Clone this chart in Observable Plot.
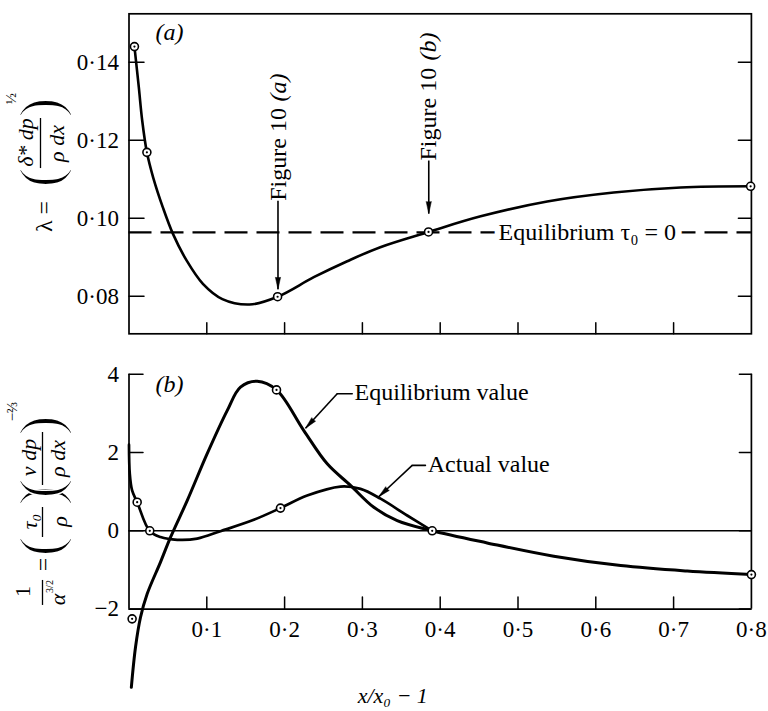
<!DOCTYPE html>
<html>
<head>
<meta charset="utf-8">
<script src="https://cdn.jsdelivr.net/npm/d3@7"></script>
<script src="https://cdn.jsdelivr.net/npm/@observablehq/plot@0.6"></script>
<style>
  html, body { margin: 0; padding: 0; background: #fff; }
  #chart svg { display: block; }
</style>
</head>
<body>
<div id="chart"></div>
<script>
// ---------------- data ----------------
const xMinorTicks = [0.1, 0.2, 0.3, 0.4, 0.5, 0.6, 0.7];
const xLabelValues = [0.1, 0.2, 0.3, 0.4, 0.5, 0.6, 0.7, 0.8];
const xTickLabels = ["0·1", "0·2", "0·3", "0·4", "0·5", "0·6", "0·7", "0·8"];

// panel (a): lambda
const lambdaTicks = [0.08, 0.10, 0.12, 0.14];
const lambdaTickLabels = ["0·08", "0·10", "0·12", "0·14"];
const lambdaCurveX = [0.007, 0.0126, 0.017, 0.023, 0.031, 0.0435, 0.0565, 0.074, 0.095, 0.120, 0.155, 0.191, 0.2375, 0.2805, 0.323, 0.385, 0.452, 0.5375, 0.623, 0.709, 0.799];
const lambdaCurveY = [0.1440, 0.1336, 0.1250, 0.1169, 0.1105, 0.1028, 0.0960, 0.0892, 0.0832, 0.0793, 0.0779, 0.0799, 0.0849, 0.0890, 0.0926, 0.0965, 0.1005, 0.1043, 0.1066, 0.1079, 0.1082];
const lambdaPointX = [0.007, 0.023, 0.191, 0.385, 0.799];
const lambdaPointY = [0.1440, 0.1169, 0.0799, 0.0965, 0.1082];
const lambdaEquilibrium = 0.0964;

// panel (b): 1/alpha^(3/2)
const alphaTicks = [-2, 0, 2, 4];
const alphaTickLabels = ["−2", "0", "2", "4"];
const equilibriumX = [0.003, 0.0084, 0.0148, 0.0234, 0.0405, 0.0533, 0.0748, 0.1005, 0.1262, 0.1433, 0.1648, 0.1896, 0.2247, 0.2548, 0.2847, 0.3147, 0.3447, 0.3897, 0.4604, 0.546, 0.632, 0.7175, 0.800];
const equilibriumY = [-4.0, -2.97, -2.21, -1.61, -0.80, -0.17, 0.77, 1.97, 3.07, 3.67, 3.82, 3.60, 2.56, 1.71, 1.16, 0.60, 0.26, 0.0, -0.31, -0.65, -0.89, -1.03, -1.12];
const equilibriumPointX = [0.004, 0.1896, 0.3897, 0.800];
const equilibriumPointY = [-2.25, 3.60, 0.0, -1.12];
const actualX = [0.0, 0.001, 0.004, 0.0105, 0.0267, 0.0405, 0.062, 0.0877, 0.1176, 0.1604, 0.1947, 0.229, 0.2718, 0.2976, 0.3233, 0.3576, 0.3897];
const actualY = [2.2, 1.46, 1.03, 0.73, -0.01, -0.16, -0.23, -0.20, -0.01, 0.28, 0.58, 0.90, 1.13, 1.07, 0.82, 0.39, 0.0];
const actualPointX = [0.0105, 0.0267, 0.1947];
const actualPointY = [0.73, 0.0, 0.58];

// annotations
const figureA = {text: "Figure 10", tag: "(a)", x: 0.1915, yStart: 0.1045, yEnd: 0.1371, yTip: 0.0818};
const figureB = {text: "Figure 10", tag: "(b)", x: 0.3853, yStart: 0.1148, yEnd: 0.1476, yTip: 0.1012};
const eqLabel = {text: "Equilibrium τ₀ = 0", x: 0.475, y: 0.0964};
const eqValueLabel = {text: "Equilibrium value", x: 0.290, y: 3.53, leaderX: [0.2869, 0.2676], leaderY: [3.50, 3.50], tipX: 0.2269, tipY: 2.62};
const actValueLabel = {text: "Actual value", x: 0.384, y: 1.70, leaderX: [0.381, 0.364], leaderY: [1.67, 1.67], tipX: 0.321, tipY: 0.87};

// ---------------- layout ----------------
const FONT = "Liberation Serif, DejaVu Serif, serif";
const W = 768, ML = 128.5, MR = 17.1;
const tickShape = {draw(context, l) { context.moveTo(0, 0); context.lineTo(0, -l); }};
const pts = (xs, ys) => xs.map((x, i) => ({x, y: ys[i]}));
const txt = {fontFamily: FONT, fill: "black"};

function ticksY(values, x, rotate, length) {
  return Plot.vector(values, {x, y: d => d, rotate, length, anchor: "start", shape: tickShape, stroke: "black", strokeWidth: 1.5});
}
function ticksX(values, y, length) {
  return Plot.vector(values, {x: d => d, y, rotate: 0, length, anchor: "start", shape: tickShape, stroke: "black", strokeWidth: 1.5});
}
function circles(data) {
  return [
    Plot.dot(data, {x: "x", y: "y", r: 4, fill: "white", stroke: "black", strokeWidth: 1.6}),
    Plot.dot(data, {x: "x", y: "y", r: 1.1, fill: "black", stroke: null})
  ];
}
// filled, narrow arrowhead ending at (x, y), pointing along `rotate` (degrees clockwise from up)
function head(datum, x, y, rotate) {
  return Plot.vector([datum], {x, y, rotate, length: 12, r: 2.6, shape: "spike", anchor: "end", fill: "black", stroke: "black", strokeWidth: 0.5});
}
// pieces of a rotated (stacked) axis title, positioned relative to the frame's top-left corner
function titlePart(text, px, py, top, opts = {}) {
  return Plot.text([text], {text: d => d, frameAnchor: "top-left", dx: px - ML, dy: py - top, rotate: -90,
    textAnchor: "middle", lineAnchor: "middle", fontSize: 22, ...txt, ...opts});
}
function paren(text, px, py, top) {
  // large thin parenthesis: glyph slightly eroded by a white outline painted over it
  return titlePart(text, px, py, top, {fontSize: 60, stroke: "white", strokeWidth: 1.6, paintOrder: "normal"});
}

// ---------------- panel (a) ----------------
const A_TOP = 13.3, A_H = 345;
const aYmin = 0.0704, aYmax = 0.1524;
const plotA = Plot.plot({
  width: W, height: A_H,
  marginLeft: ML, marginRight: MR, marginTop: A_TOP, marginBottom: A_H - 333.3,
  x: {domain: [0, 0.8], axis: null},
  y: {domain: [aYmin, aYmax], axis: null},
  style: {fontFamily: FONT, background: "white", color: "black", overflow: "visible"},
  marks: [
    Plot.frame({stroke: "black", strokeWidth: 1.7}),
    ticksY(lambdaTicks, 0, 90, 15),
    ticksY(lambdaTicks, 0.8, -90, 13),
    ticksX(xMinorTicks, aYmin, 11),
    Plot.text(lambdaTicks, {x: 0, y: d => d, text: (d, i) => lambdaTickLabels[i], textAnchor: "end", dx: -10, fontSize: 23, ...txt}),
    Plot.ruleY([lambdaEquilibrium], {stroke: "black", strokeWidth: 2.2, strokeDasharray: "23,9"}),
    Plot.line(pts(lambdaCurveX, lambdaCurveY), {x: "x", y: "y", curve: "catmull-rom", stroke: "black", strokeWidth: 2.6}),
    Plot.text([eqLabel], {x: "x", y: "y", text: "text", textAnchor: "start", fontSize: 24, ...txt, stroke: "white", strokeWidth: 13}),
    // Figure 10 annotations
    ...[figureA, figureB].flatMap(f => [
      Plot.text([f], {x: "x", y: "yStart", text: "text", rotate: -90, textAnchor: "start", fontSize: 24, ...txt}),
      Plot.text([f], {x: "x", y: "yEnd", text: "tag", rotate: -90, textAnchor: "end", fontSize: 24, fontStyle: "italic", ...txt}),
      Plot.link([f], {x1: "x", x2: "x", y1: "yStart", y2: "yTip", stroke: "black", strokeWidth: 1.6}),
      head(f, "x", "yTip", 180)
    ]),
    ...circles(pts(lambdaPointX, lambdaPointY)),
    Plot.text(["(a)"], {x: 0.052, y: 0.1477, text: d => d, fontSize: 24, fontStyle: "italic", ...txt}),
    // y-axis title: λ = (δ* dp / ρ dx)^½
    titlePart("λ =", 44, 216, A_TOP, {fontSize: 24}),
    paren("(", 40, 177, A_TOP),
    paren(")", 40, 107, A_TOP),
    titlePart("δ* dp", 25, 142, A_TOP, {fontStyle: "italic"}),
    titlePart("ρ dx", 56, 143, A_TOP, {fontStyle: "italic"}),
    Plot.ruleX([0], {dx: 40 - ML, y1: 0.14 - (118 - 61.7) / 3900, y2: 0.14 - (168 - 61.7) / 3900, stroke: "black", strokeWidth: 1.3}),
    titlePart("½", 11, 98, A_TOP, {fontSize: 15})
  ]
});

// ---------------- panel (b) ----------------
const B_H = 366;
const bYmin = -4.5, bYmax = 4.2;
const B_TOP = 20.9, B_BOTTOM = 4.6;
// pixels per data unit, used only to orient the arrowheads along their leader lines
const kx = (W - ML - MR) / 0.8, ky = (B_H - B_TOP - B_BOTTOM) / (bYmax - bYmin);
const headAngle = l => Math.atan2((l.tipX - l.leaderX[1]) * kx, (l.tipY - l.leaderY[1]) * ky) * 180 / Math.PI;
const plotB = Plot.plot({
  width: W, height: B_H,
  marginLeft: ML, marginRight: MR, marginTop: B_TOP, marginBottom: B_BOTTOM,
  x: {domain: [0, 0.8], axis: null},
  y: {domain: [bYmin, bYmax], axis: null},
  style: {fontFamily: FONT, background: "white", color: "black", overflow: "visible"},
  marks: [
    Plot.ruleX([0, 0.8], {y1: -2, y2: 4, stroke: "black", strokeWidth: 1.7}),
    Plot.ruleY([-2], {x1: 0, x2: 0.8, stroke: "black", strokeWidth: 1.7}),
    Plot.ruleY([0], {x1: 0, x2: 0.8, stroke: "black", strokeWidth: 1.4}),
    ticksY(alphaTicks, 0, 90, 14),
    ticksY(alphaTicks, 0.8, -90, 12),
    ticksX(xMinorTicks, -2, 12),
    Plot.text(alphaTicks, {x: 0, y: d => d, text: (d, i) => alphaTickLabels[i], textAnchor: "end", dx: -10, fontSize: 23, ...txt}),
    Plot.text(xLabelValues, {x: d => d, y: -2, text: (d, i) => xTickLabels[i], lineAnchor: "top", dy: 12, fontSize: 23, ...txt}),
    Plot.text(["x/x₀ − 1"], {x: 0.339, y: -2, text: d => d, dy: 87, fontSize: 22, fontStyle: "italic", ...txt}),
    Plot.line(pts(equilibriumX, equilibriumY), {x: "x", y: "y", curve: "catmull-rom", stroke: "black", strokeWidth: 3}),
    Plot.line(pts(actualX, actualY), {x: "x", y: "y", curve: "catmull-rom", stroke: "black", strokeWidth: 2.7}),
    ...circles(pts(equilibriumPointX, equilibriumPointY)),
    ...circles(pts(actualPointX, actualPointY)),
    // labels with leaders
    ...[eqValueLabel, actValueLabel].flatMap(l => [
      Plot.text([l], {x: "x", y: "y", text: "text", textAnchor: "start", fontSize: 24, ...txt}),
      Plot.line(pts(l.leaderX, l.leaderY), {x: "x", y: "y", stroke: "black", strokeWidth: 1.6}),
      Plot.link([l], {x1: d => d.leaderX[1], y1: d => d.leaderY[1], x2: "tipX", y2: "tipY", stroke: "black", strokeWidth: 1.6}),
      head(l, "tipX", "tipY", headAngle(l))
    ]),
    Plot.text(["(b)"], {x: 0.052, y: 3.74, text: d => d, fontSize: 24, fontStyle: "italic", ...txt}),
    // y-axis title: 1/α^(3/2) = (τ₀/ρ)(ν dp/ρ dx)^(−2/3)
    titlePart("1", 22, 591 - 345, B_TOP),
    Plot.ruleX([0], {dx: 42 - ML, y1: (530.3 - 580) / 39.15, y2: (530.3 - 605) / 39.15, stroke: "black", strokeWidth: 1.3}),
    titlePart("α", 57, 599 - 345, B_TOP, {fontStyle: "italic"}),
    titlePart("3/2", 49, 586 - 345, B_TOP, {fontSize: 10}),
    titlePart("=", 43, 564 - 345, B_TOP, {fontSize: 24}),
    paren("(", 40, 546 - 345, B_TOP),
    titlePart("τ₀", 29, 521 - 345, B_TOP, {fontStyle: "italic"}),
    Plot.ruleX([0], {dx: 42 - ML, y1: (530.3 - 507) / 39.15, y2: (530.3 - 537) / 39.15, stroke: "black", strokeWidth: 1.3}),
    titlePart("ρ", 59, 521 - 345, B_TOP, {fontStyle: "italic"}),
    paren(")", 40, 495 - 345, B_TOP),
    paren("(", 40, 488 - 345, B_TOP),
    titlePart("ν dp", 28, 457 - 345, B_TOP, {fontStyle: "italic"}),
    Plot.ruleX([0], {dx: 42 - ML, y1: (530.3 - 432) / 39.15, y2: (530.3 - 485) / 39.15, stroke: "black", strokeWidth: 1.3}),
    titlePart("ρ dx", 57, 458 - 345, B_TOP, {fontStyle: "italic"}),
    paren(")", 40, 425 - 345, B_TOP),
    titlePart("−⅔", 12, 411 - 345, B_TOP, {fontSize: 15})
  ]
});

const chart = document.getElementById("chart");
chart.appendChild(plotA);
chart.appendChild(plotB);
</script>
</body>
</html>
